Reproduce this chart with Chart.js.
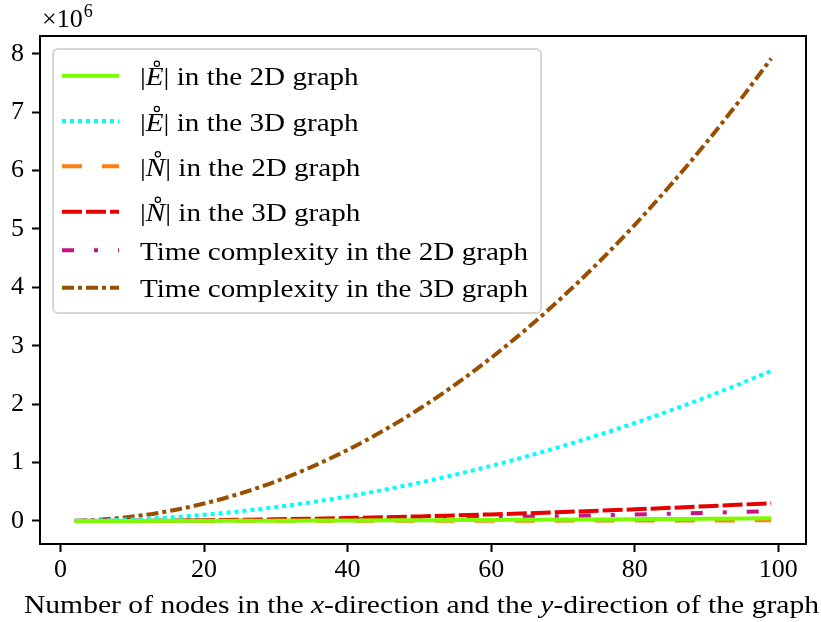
<!DOCTYPE html>
<html>
<head>
<meta charset="utf-8">
<script src="https://cdn.jsdelivr.net/npm/chart.js"></script>
<style>
html,body{margin:0;padding:0;background:#fff;}
#wrap{width:821px;height:622px;}
canvas{display:block;}
</style>
</head>
<body>
<div id="wrap"><canvas id="c" width="821" height="622"></canvas></div>
<script>
// ---- data ----
const xs = [2, 5, 10, 15, 20, 25, 30, 35, 40, 45, 50, 55, 60, 65, 70, 75, 80, 85, 90, 95, 99];
const edges2D = [20, 120, 460, 1030, 1840, 2900, 4100, 5600, 7400, 9300, 11500, 13900, 16600, 19400, 22500, 25900, 29400, 33200, 37300, 41500, 45000];
const edges3D = [1000, 6600, 26000, 59000, 105000, 164000, 236000, 321000, 419000, 531000, 655000, 793000, 943000, 1107000, 1284000, 1474000, 1677000, 1893000, 2122000, 2365000, 2568000];
const nodes2D = [4, 25, 100, 225, 400, 625, 900, 1225, 1600, 2025, 2500, 3025, 3600, 4225, 4900, 5625, 6400, 7225, 8100, 9025, 9800];
const nodes3D = [120, 780, 3100, 7000, 12400, 19400, 27900, 38000, 49600, 62800, 77500, 93800, 111600, 131000, 151900, 174400, 198400, 224000, 251100, 279800, 303800];
const time2D = [70, 430, 1700, 3800, 6800, 10600, 15300, 20800, 27200, 34400, 42500, 51400, 61200, 71800, 83300, 95600, 108800, 122800, 137700, 153400, 166600];
const time3D = [3000, 18000, 74000, 166000, 297000, 467000, 676000, 926000, 1216000, 1547000, 1920000, 2335000, 2794000, 3296000, 3843000, 4434000, 5072000, 5755000, 6485000, 7263000, 7919000];
const seriesLabels = [
  "|E| in the 2D graph",
  "|E| in the 3D graph",
  "|N| in the 2D graph",
  "|N| in the 3D graph",
  "Time complexity in the 2D graph",
  "Time complexity in the 3D graph"
];
const xTicks = [0, 20, 40, 60, 80, 100];
const yTicks = [0, 1e6, 2e6, 3e6, 4e6, 5e6, 6e6, 7e6, 8e6];
const xTitleParts = [["Number of nodes in the ", false], ["x", true], ["-direction and the ", false], ["y", true], ["-direction of the graph", false]];

// ---- styles ----
const FONT = "'Liberation Serif', 'Times New Roman', serif";
const colors = ['#7cfc00', '#00ffff', '#ff7f0e', '#e60000', '#c71585', '#985000'];
const dashes = [[], [4, 4], [20, 20], [20, 4], [12, 20, 4, 20], [12, 4, 4, 4]];
const allSeries = [edges2D, edges3D, nodes2D, nodes3D, time2D, time3D];

const datasets = allSeries.map((s, i) => ({
  label: seriesLabels[i],
  data: xs.map((x, j) => ({x: x, y: s[j]})),
  borderColor: colors[i],
  backgroundColor: colors[i],
  borderWidth: 4,
  borderDash: dashes[i],
  borderCapStyle: 'butt',
  pointRadius: 0,
  fill: false,
  cubicInterpolationMode: 'monotone'
}));

function drawMixed(ctx, parts, x, y, size, align, sx) {
  ctx.save();
  let total = 0;
  const widths = parts.map(p => {
    ctx.font = (p[1] ? 'italic ' : '') + size + 'px ' + FONT;
    const w = ctx.measureText(p[0]).width;
    total += w;
    return w;
  });
  ctx.translate(x, y);
  ctx.scale(sx, 1);
  let cx = align === 'center' ? -total / 2 : 0;
  const pos = [];
  parts.forEach((p, i) => {
    ctx.font = (p[1] ? 'italic ' : '') + size + 'px ' + FONT;
    ctx.fillText(p[0], cx, 0);
    pos.push([x + cx * sx, widths[i] * sx]);
    cx += widths[i];
  });
  ctx.restore();
  return pos;
}

const decor = {
  id: 'decor',
  afterDraw(chart) {
    const ctx = chart.ctx;
    const a = chart.chartArea;
    ctx.save();
    // frame
    ctx.strokeStyle = '#000';
    ctx.lineWidth = 2;
    ctx.strokeRect(a.left, a.top, a.right - a.left, a.bottom - a.top);

    // offset text x10^6
    ctx.fillStyle = '#000';
    ctx.textBaseline = 'alphabetic';
    ctx.font = '26px ' + FONT;
    ctx.fillText('\u00d710', 42, 27);
    const w = ctx.measureText('\u00d710').width;
    ctx.font = '18px ' + FONT;
    ctx.fillText('6', 42 + w + 1, 17);

    // legend box
    const bx = 53, by = 49, bw = 488, bh = 264, r = 5;
    ctx.beginPath();
    ctx.moveTo(bx + r, by);
    ctx.arcTo(bx + bw, by, bx + bw, by + bh, r);
    ctx.arcTo(bx + bw, by + bh, bx, by + bh, r);
    ctx.arcTo(bx, by + bh, bx, by, r);
    ctx.arcTo(bx, by, bx + bw, by, r);
    ctx.closePath();
    ctx.fillStyle = 'rgba(255,255,255,0.85)';
    ctx.fill();
    ctx.strokeStyle = '#d6d6d6';
    ctx.lineWidth = 2;
    ctx.stroke();

    const rows = [75.7, 121, 166.3, 211.7, 250.3, 287.7];
    chart.data.datasets.forEach((ds, i) => {
      const y = rows[i];
      ctx.save();
      ctx.strokeStyle = ds.borderColor;
      ctx.lineWidth = ds.borderWidth;
      ctx.lineCap = 'butt';
      ctx.setLineDash(ds.borderDash);
      ctx.beginPath();
      ctx.moveTo(62, y);
      ctx.lineTo(119, y);
      ctx.stroke();
      ctx.restore();

      ctx.fillStyle = '#000';
      const lab = ds.label;
      const base = y + 9.5;
      if (lab[0] === '|') {
        const letter = lab[1];
        const rest = lab.slice(2);
        const pos = drawMixed(ctx, [['|', false], [letter, true], [rest, false]], 140, base, 26, 'left', 1.12);
        const lx = pos[1][0] + pos[1][1] * 0.62;
        ctx.beginPath();
        ctx.strokeStyle = '#000';
        ctx.lineWidth = 1.2;
        ctx.arc(lx, base - 21.5, 2.6, 0, Math.PI * 2);
        ctx.stroke();
      } else {
        drawMixed(ctx, [[lab, false]], 140, base, 26, 'left', 1.12);
      }
    });

    // x axis title
    ctx.fillStyle = '#000';
    drawMixed(ctx, xTitleParts, 421.5, 613, 26, 'center', 1.139);
    ctx.restore();
  }
};

const axisCommon = {
  type: 'linear',
  grid: {drawOnChartArea: false, drawTicks: true, tickLength: 8, tickWidth: 2, tickColor: '#000'},
  border: {display: true, color: '#000', width: 2},
};

new Chart(document.getElementById('c'), {
  type: 'line',
  data: {datasets: datasets},
  options: {
    responsive: false,
    animation: false,
    devicePixelRatio: 1,
    layout: {padding: {top: 36, right: 15, left: 0, bottom: 0}},
    plugins: {legend: {display: false}, tooltip: {enabled: false}, title: {display: false}},
    scales: {
      x: Object.assign({}, axisCommon, {
        min: -2.85, max: 103.85,
        afterFit(s) { s.height = 78; },
        afterBuildTicks(s) { s.ticks = xTicks.map(v => ({value: v})); },
        ticks: {font: {family: FONT, size: 26}, color: '#000', padding: 3, maxRotation: 0, autoSkip: false,
                callback: v => String(v)}
      }),
      y: Object.assign({}, axisCommon, {
        min: -395500, max: 8305500,
        afterFit(s) { s.width = 40; },
        afterBuildTicks(s) { s.ticks = yTicks.map(v => ({value: v})); },
        ticks: {font: {family: FONT, size: 26}, color: '#000', padding: 8, autoSkip: false,
                callback: v => String(Math.round(v / 1e6))}
      })
    }
  },
  plugins: [decor]
});
</script>
</body>
</html>
